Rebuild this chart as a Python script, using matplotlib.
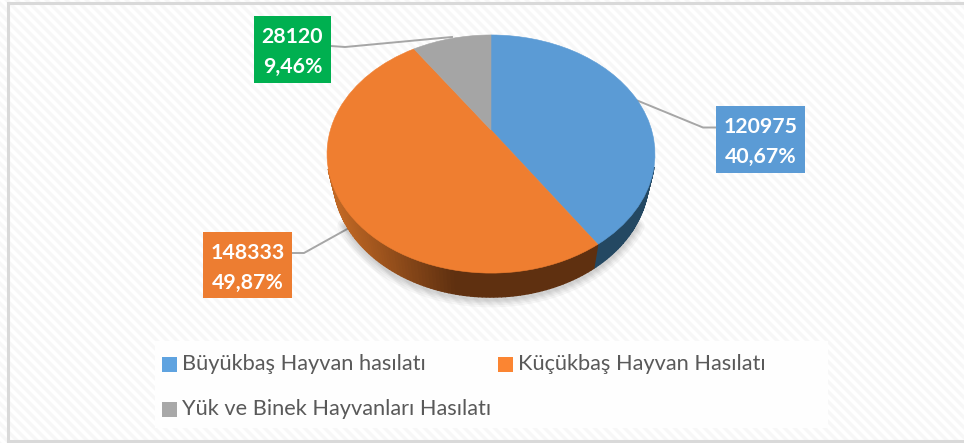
import numpy as np
import matplotlib
matplotlib.use("Agg")
import matplotlib.pyplot as plt
from matplotlib.patches import Rectangle, Polygon
from matplotlib.transforms import Transform
from matplotlib.colors import to_rgb

categories = ["Büyükbaş Hayvan hasılatı", "Küçükbaş Hayvan Hasılatı", "Yük ve Binek Hayvanları Hasılatı"]
values = [120975, 148333, 28120]
percents = ["40,67%", "49,87%", "9,46%"]

W, H = 964, 443
CX, CY, A, B, K, DEPTH, SHRINK = 491.0, 130.0, 160.6, 114.2, 0.2017, 24.0, 0.962
top_colors = ["#5b9bd5", "#ef7e30", "#a5a5a5"]
box_colors = ["#5b9bd5", "#ed7d31", "#00b050"]
legend_colors = ["#5fa3e0", "#fb8532", "#a8a8a8"]
TEXT = "#595959"
LEADER = "#a6a6a6"
FONT = "Lato"


def project(u, v):
    d = 1 + K * v
    return CX + A * u / d, CY - B * v / d


def lower(x, y):
    return CX + (x - CX) * SHRINK, y + DEPTH


class Tilt(Transform):
    input_dims = 2
    output_dims = 2
    is_separable = False
    has_inverse = False

    def transform_non_affine(self, xy):
        xy = np.asarray(xy, dtype=float)
        x, y = project(xy[:, 0], xy[:, 1])
        return np.column_stack([x, y])


fig = plt.figure(figsize=(W / 100, H / 100), dpi=100)
ax = fig.add_axes([0, 0, 1, 1])

wedges, _ = ax.pie(values, startangle=90, counterclock=False, radius=1, colors=top_colors,
                   wedgeprops=dict(linewidth=0.4))
ax.set_aspect("auto")
ax.set_xlim(0, W)
ax.set_ylim(H, 0)
ax.axis("off")
tilt = Tilt() + ax.transData
for w, c in zip(wedges, top_colors):
    w.set_transform(tilt)
    w.set_edgecolor(c)
    w.set_clip_on(False)
    w.set_zorder(6)

# textured background
yy, xx = np.mgrid[0:H, 0:W]
tex = np.where(((xx - yy) % 10) < 5, 1.0, 0.968)
tex = 0.5 * (tex + np.where(((xx - yy + 1) % 10) < 5, 1.0, 0.968))
ax.imshow(tex, cmap="gray", vmin=0, vmax=1, extent=(0, W, H, 0), aspect="auto",
          interpolation="nearest", zorder=0)
ax.set_xlim(0, W)
ax.set_ylim(H, 0)

# chart frame
ax.plot([964, 8, 8, 964], [3, 3, 441, 441], color="#d9d9d9", lw=2.2, zorder=1, solid_joinstyle="miter")

# side wall
total = sum(values)
fractions = np.array(values) / total
edges = np.concatenate([[0], np.cumsum(fractions)]) * 2 * np.pi
rim = np.linspace(2.15, 2 * np.pi - 2.15, 361)
rx, ry = lower(*project(np.sin(rim), np.cos(rim)))
for r in [12, 9, 6.5, 4.5, 2.5]:
    ax.plot(rx, ry + 2, color="black", lw=r, alpha=0.035, zorder=3, solid_capstyle="round")


def wall_colour(i, x):
    if i == 0:
        return "#244862"
    t = np.clip((x - 340) / (455 - 340), 0, 1)
    a, b = np.array(to_rgb("#bf6724")), np.array(to_rgb("#5f3010"))
    return tuple(a + (b - a) * t)


for i in range(len(values)):
    th = np.linspace(edges[i], edges[i + 1], 160)
    if i == 1:
        th = th[::-1]
    for a0, a1 in zip(th[:-1], th[1:]):
        u, v = np.sin([a0, a1]), np.cos([a0, a1])
        if max(v) > -0.3:
            continue
        x, y = project(u, v)
        xb, yb = lower(x, y)
        pts = [(x[0], y[0]), (x[1], y[1]), (xb[1], yb[1]), (xb[0], yb[0])]
        c = wall_colour(i, x.mean())
        ax.add_patch(Polygon(pts, closed=True, facecolor=c, edgecolor=c, lw=1.0, zorder=4))

# legend panel
ax.add_patch(Rectangle((155, 341), 673, 87, facecolor="#fefefe", edgecolor="none", zorder=1.5))
legend_pos = [(162, 364.5), (498, 364.5), (162, 409.5)]
for (lx, ly), c, name in zip(legend_pos, legend_colors, categories):
    ax.add_patch(Rectangle((lx, ly - 7.5), 15, 15, facecolor=c, edgecolor="none", zorder=2))
    ax.text(lx + 20, ly - 0.5, name, fontsize=15.7, color=TEXT, family=FONT, va="center", ha="left", zorder=2)

# leader lines
leaders = [
    ([636, 703, 716], [100, 127.5, 127.5]),
    ([349, 304, 292], [228, 253, 253]),
    ([331, 345, 452], [46, 47, 37]),
]
for lxs, lys in leaders:
    ax.plot(lxs, lys, color=LEADER, lw=1.4, zorder=2.5)

# data labels
boxes = [(716, 106, 89, 67), (203, 232, 89, 66), (254, 16, 77, 67)]
for (bx, by, bw, bh), c, val, pct in zip(boxes, box_colors, values, percents):
    ax.add_patch(Rectangle((bx, by), bw, bh, facecolor=c, edgecolor="none", zorder=7))
    for txt, dy in ((str(val), 21), (pct, 51)):
        ax.text(bx + bw / 2, by + dy, txt, color="white", family=FONT, fontweight="bold",
                fontsize=15.3, ha="center", va="center", zorder=8)

fig.savefig("out.png", dpi=100)
